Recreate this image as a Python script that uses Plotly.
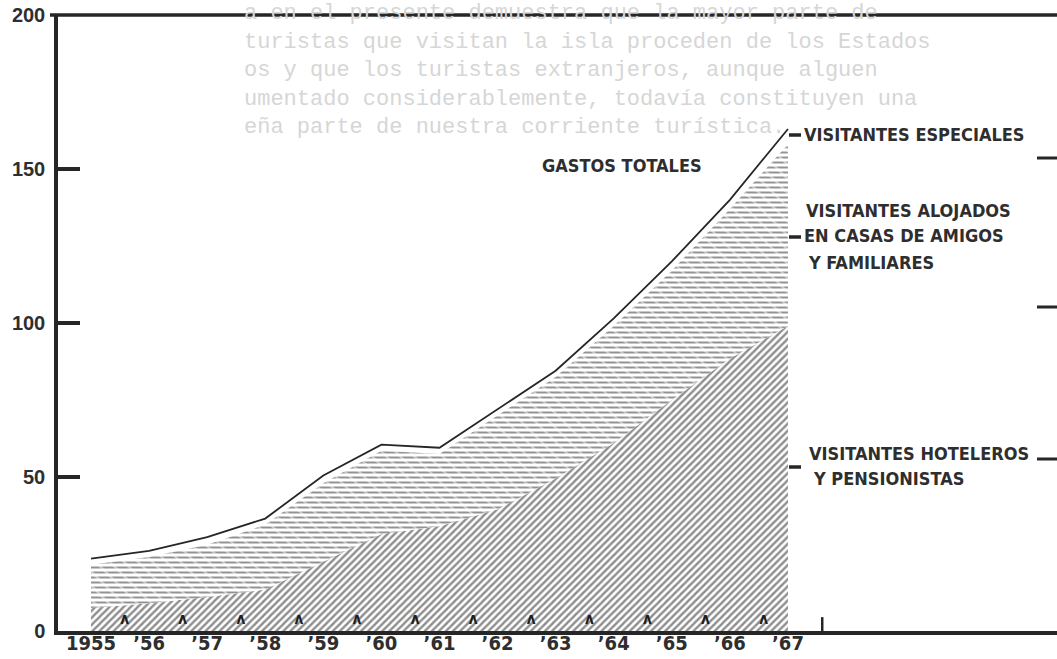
import plotly.graph_objects as go

# ---------------- data ----------------
years = list(range(1955, 1968))
x_tick_text = ["1955", "’56", "’57", "’58", "’59", "’60", "’61",
               "’62", "’63", "’64", "’65", "’66", "’67"]
# stacked components (millions of dollars)
hoteleros = [7.5, 9, 11, 13.5, 22.5, 31.5, 34, 39.5, 49.5, 61, 75, 88.5, 99]
alojados = [14, 15, 17, 21, 25.5, 27, 23.5, 30.5, 33, 38, 42, 48.5, 59]
especiales = [2, 2, 2.5, 2, 2.5, 2, 2, 2, 2, 2.5, 3, 3, 5]
y_tick_vals = [0, 50, 100, 150, 200]
y_tick_text = ["0", "50", "100", "150", "200"]

label_total = "GASTOS TOTALES"
label_especiales = "VISITANTES ESPECIALES"
label_alojados = ["VISITANTES ALOJADOS", "EN CASAS DE AMIGOS", "Y FAMILIARES"]
label_hoteleros = ["VISITANTES HOTELEROS", "Y PENSIONISTAS"]

# faint show-through text from the other side of the page
ghost_lines = [
    "a en el presente demuestra que la mayor parte de",
    "turistas que visitan la isla proceden de los Estados",
    "os y que los turistas extranjeros, aunque alguen",
    "umentado considerablemente, todavía constituyen una",
    "eña parte de nuestra corriente turística.",
]

level_hot = hoteleros
level_mid = [h + a for h, a in zip(hoteleros, alojados)]
level_tot = [m + e for m, e in zip(level_mid, especiales)]

# ---------------- layout geometry ----------------
W, H = 1057, 659
L, R, T, B = 58, 0, 15, 28
PW, PH = W - L - R, H - T - B
INK = "#262626"
NARROW = "Liberation Sans Narrow, DejaVu Sans Condensed, Arial Narrow, sans-serif"


def pxx(p):
    return (p - L) / PW


def pxy(p):
    return (H - B - p) / PH


fig = go.Figure()

# hotel visitors: diagonal hatch
fig.add_trace(go.Scatter(
    x=years, y=level_hot, mode="lines", fill="tozeroy",
    line=dict(width=0, color=INK),
    fillpattern=dict(shape="/", size=5, solidity=0.47,
                     fgcolor="#1e1e1e", bgcolor="white"),
    hoverinfo="skip", showlegend=False))

# friends & family visitors: short dash hatch
fig.add_trace(go.Scatter(
    x=years, y=level_mid, mode="lines", fill="tonexty",
    line=dict(width=0, color=INK),
    fillpattern=dict(shape="-", size=5, solidity=0.4,
                     fgcolor="#262626", bgcolor="white"),
    hoverinfo="skip", showlegend=False))
# break the horizontal lines into short dashes
fig.add_trace(go.Scatter(
    x=years, y=level_hot, mode="lines", line=dict(width=0),
    hoverinfo="skip", showlegend=False))
fig.add_trace(go.Scatter(
    x=years, y=level_mid, mode="lines", fill="tonexty",
    line=dict(width=0),
    fillpattern=dict(shape="\\", size=10, solidity=0.22,
                     fgcolor="white", bgcolor="rgba(0,0,0,0)"),
    fillcolor="rgba(0,0,0,0)",
    hoverinfo="skip", showlegend=False))

# total line (special visitors band left white)
fig.add_trace(go.Scatter(
    x=years, y=level_tot, mode="lines",
    line=dict(width=1.8, color=INK),
    hoverinfo="skip", showlegend=False))

# small caret marks along the base
fig.add_trace(go.Scatter(
    x=[y + 0.58 for y in years[:-1]], y=[3.4] * (len(years) - 1),
    mode="text", text=["ʌ"] * (len(years) - 1),
    textfont=dict(family=NARROW, size=15, color="#1e1e1e", weight="bold"),
    hoverinfo="skip", showlegend=False))

annotations = []
# ghost text (drawn first so it sits behind)
annotations.append(dict(x=pxx(242), y=pxy(-1), xref="paper", yref="paper",
                        text="<br>".join(ghost_lines), showarrow=False,
                        xanchor="left", yanchor="top", align="left",
                        font=dict(family="Liberation Mono, DejaVu Sans Mono, monospace",
                                  size=22, color="#d6d6d6")))
# series labels
LBL = dict(family=NARROW, size=18, color="#2e2e2e", weight="bold")
annotations.append(dict(x=pxx(622), y=pxy(165), xref="paper", yref="paper",
                        text=label_total, showarrow=False, xanchor="center", yanchor="middle",
                        font=LBL))
annotations.append(dict(x=pxx(802), y=pxy(135), xref="paper", yref="paper",
                        text=label_especiales, showarrow=False, xanchor="left", yanchor="middle",
                        font=LBL))
for txt, xp, yp in zip(label_alojados, [804, 802, 806], [210, 236, 262]):
    annotations.append(dict(x=pxx(xp), y=pxy(yp), xref="paper", yref="paper",
                            text=txt, showarrow=False, xanchor="left", yanchor="middle",
                            font=LBL))
for txt, xp, yp in zip(label_hoteleros, [807, 811], [453, 478]):
    annotations.append(dict(x=pxx(xp), y=pxy(yp), xref="paper", yref="paper",
                            text=txt, showarrow=False, xanchor="left", yanchor="middle",
                            font=LBL))

shapes = []
# leader dashes in front of the labels
for y_p in [135, 237, 467]:
    shapes.append(dict(type="line", xref="paper", yref="paper",
                       x0=pxx(789), x1=pxx(801), y0=pxy(y_p), y1=pxy(y_p),
                       line=dict(color=INK, width=3.5)))
# right-edge ticks
for y_p in [158, 307, 459]:
    shapes.append(dict(type="line", xref="paper", yref="paper",
                       x0=pxx(1037), x1=1, y0=pxy(y_p), y1=pxy(y_p),
                       line=dict(color=INK, width=3)))
# small end tick on the base line
shapes.append(dict(type="line", xref="x", yref="y",
                   x0=years[-1] + 0.59, x1=years[-1] + 0.59, y0=0, y1=4.5,
                   line=dict(color=INK, width=2.5)))
# top rule extends slightly left of the axis
shapes.append(dict(type="line", xref="paper", yref="paper",
                   x0=pxx(50), x1=1, y0=1, y1=1,
                   line=dict(color=INK, width=3.5)))

x0 = years[0] - (91 - L) / 58.08
x1 = years[0] + (W - R - 91) / 58.08

fig.update_layout(
    width=W, height=H,
    margin=dict(l=L, r=R, t=T, b=B, pad=0),
    paper_bgcolor="white", plot_bgcolor="white",
    showlegend=False,
    annotations=annotations,
    shapes=shapes,
    xaxis=dict(range=[x0, x1], tickmode="array", tickvals=years, ticktext=x_tick_text,
               showgrid=False, zeroline=False, showline=True, linecolor=INK, linewidth=3.5,
               mirror=False, ticks="", ticklabelstandoff=-9,
               tickfont=dict(family=NARROW, size=20, color="#2e2e2e", weight="bold"),
               fixedrange=True),
    yaxis=dict(range=[0, 200], tickmode="array", tickvals=y_tick_vals, ticktext=y_tick_text,
               showgrid=False, zeroline=False, showline=True, linecolor=INK, linewidth=3.5,
               ticks="inside", ticklen=22, tickwidth=3.5, tickcolor=INK,
               ticklabelstandoff=5,
               tickfont=dict(family="Liberation Sans, Arial, sans-serif", size=20,
                             color="#2e2e2e", weight="bold"),
               fixedrange=True),
)

fig.write_html("out.html", config={"displayModeBar": False},
               post_script="document.body.style.margin='0';")
